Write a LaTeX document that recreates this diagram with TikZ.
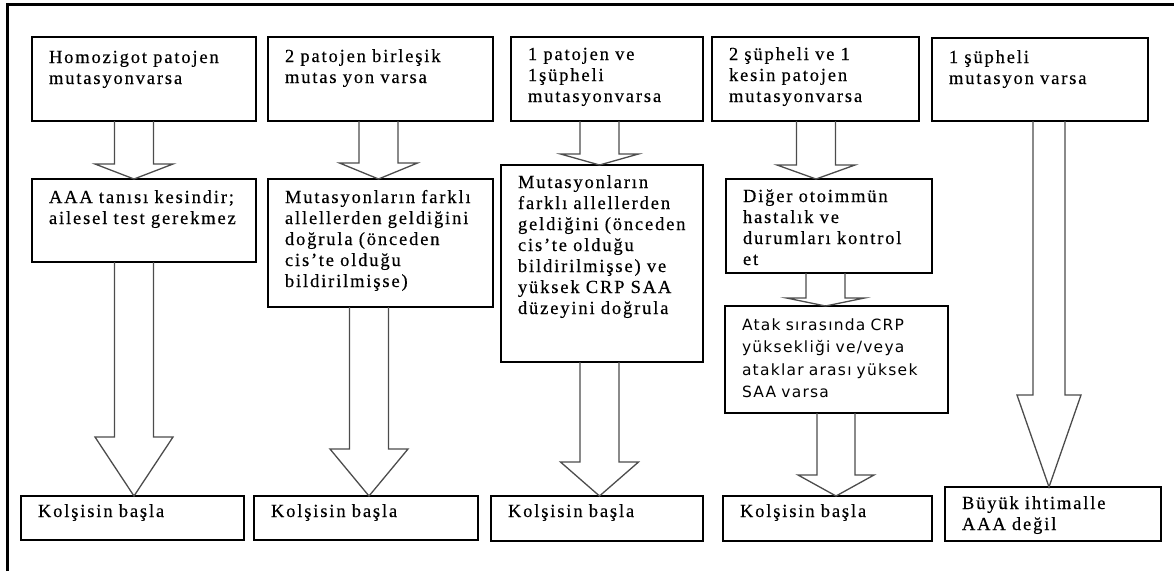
\documentclass[tikz,border=0pt]{standalone}
\usepackage{fontspec}
\setmainfont[LetterSpace=10, FakeBold=0.4]{Liberation Serif}
\newfontfamily\sansboxfont[LetterSpace=8]{DejaVu Sans}
\usetikzlibrary{calc}

% hollow block arrow: from, to, centre x, head y, half shaft width
\newcommand{\fatarrow}[5]{%
  \draw[fatarr] (#3-#5,0 |- #1.south) -- (#3-#5,#4) -- (#3-2*#5,#4)
    -- (#3,0 |- #2.north) -- (#3+2*#5,#4) -- (#3+#5,#4)
    -- (#3+#5,0 |- #1.south);}

\begin{document}
\begin{tikzpicture}[x=1pt, y=-1pt,
    box/.style={draw, line width=1.7pt, anchor=north west, align=left,
      inner xsep=17pt, inner ysep=0pt, outer sep=0pt, text height=24pt,
      font=\fontsize{18.5}{21}\selectfont},
    fatarr/.style={draw=black!70, line width=1.3pt, line join=miter}]
  \useasboundingbox (0,0) rectangle (1174,571);

  % frame
  \draw[line width=3pt] (7,571) -- (7,4) -- (1174,4);

  % top row
  \node[box, text width=190pt, text height=26pt, text depth=58pt] (t1) at (32,37)
    {Homozigot patojen\\mutasyonvarsa};
  \node[box, text width=191pt, text height=25pt, text depth=59pt] (t2) at (268,37)
    {2 patojen birleşik\\mutas yon varsa};
  \node[box, text width=158pt, text height=23pt, text depth=61pt] (t3) at (511,37)
    {1 patojen ve\\1şüpheli\\mutasyonvarsa};
  \node[box, text width=173pt, text height=23pt, text depth=61pt] (t4) at (712,37)
    {2 şüpheli ve 1\\kesin patojen\\mutasyonvarsa};
  \node[box, text width=182pt, text height=25pt, text depth=58pt] (t5) at (932,38)
    {1 şüpheli\\mutasyon varsa};

  % middle row
  \node[box, text width=190pt, text depth=59pt] (m1) at (32,179)
    {AAA tanısı kesindir;\\ailesel test gerekmez};
  \node[box, text width=191pt, text depth=104pt] (m2) at (268,179)
    {Mutasyonların farklı\\allellerden geldiğini\\doğrula (önceden\\cis’te olduğu\\bildirilmişse)};
  \node[box, text width=168pt, text height=23pt, text depth=174pt] (m3) at (501,165)
    {Mutasyonların\\farklı allellerden\\geldiğini (önceden\\cis’te olduğu\\bildirilmişse) ve\\yüksek CRP SAA\\düzeyini doğrula};
  \node[box, text width=172pt, text height=23pt, text depth=71pt] (m4a) at (726,179)
    {Diğer otoimmün\\hastalık ve\\durumları kontrol\\et};
  \node[box, text width=189pt, text depth=83pt,
    font=\sansboxfont\fontsize{15.5}{22.5}\selectfont] (m4b) at (725,306)
    {Atak sırasında CRP\\yüksekliği ve/veya\\ataklar arası yüksek\\SAA varsa};

  % bottom row
  \node[box, text width=189pt, text height=21pt, text depth=23pt] (b1) at (21,496) {Kolşisin başla};
  \node[box, text width=190pt, text height=21pt, text depth=23pt] (b2) at (254,496) {Kolşisin başla};
  \node[box, text width=178pt, text height=21pt, text depth=24pt] (b3) at (491,496) {Kolşisin başla};
  \node[box, text width=175pt, text height=21pt, text depth=24pt] (b4) at (723,496) {Kolşisin başla};
  \node[box, text width=182pt, text height=22pt, text depth=32pt] (b5) at (945,487)
    {Büyük ihtimalle\\AAA değil};

  % arrows
  \fatarrow{t1}{m1}{134}{164}{19.5}
  \fatarrow{m1}{b1}{134}{437}{19.5}
  \fatarrow{t2}{m2}{378.5}{163}{19.5}
  \fatarrow{m2}{b2}{369}{449}{19.5}
  \fatarrow{t3}{m3}{599.5}{154}{19.5}
  \fatarrow{m3}{b3}{599.5}{462}{19.5}
  \fatarrow{t4}{m4a}{816}{165}{19.5}
  \fatarrow{m4a}{m4b}{825.5}{298}{19.5}
  \fatarrow{m4b}{b4}{836}{475}{19}
  \fatarrow{t5}{b5}{1049}{395}{16}
\end{tikzpicture}
\end{document}
